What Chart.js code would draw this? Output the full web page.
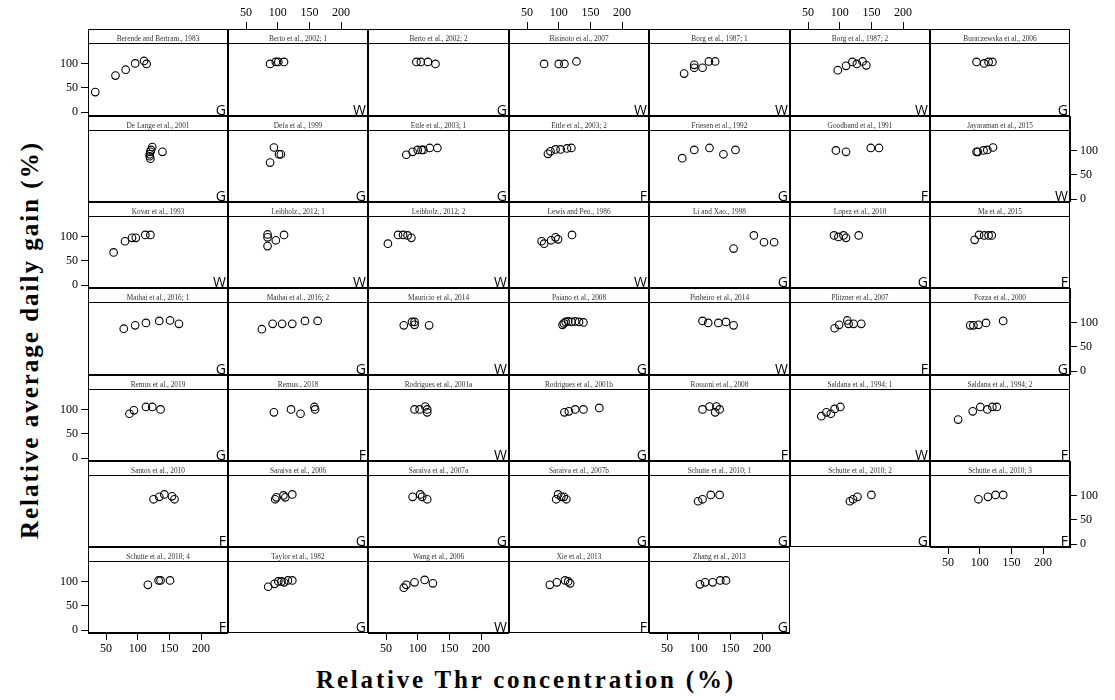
<!DOCTYPE html>
<html>
<head>
<meta charset="utf-8">
<script src="https://cdn.jsdelivr.net/npm/chart.js@4.4.1/dist/chart.umd.min.js"></script>
<style>
  html, body { margin: 0; padding: 0; background: #fff; }
  #fig { position: relative; width: 1115px; height: 700px; overflow: hidden; }
  #fig canvas { position: absolute; }
  .title { position: absolute; font-family: "Liberation Serif", serif; font-weight: bold;
           font-size: 25px; color: #000; white-space: nowrap; }
  #xtitle { left: 526px; top: 680px; transform: translate(-50%, -50%); letter-spacing: 2.8px; }
  #ytitle { left: 30px; top: 340px; transform: translate(-50%, -50%) rotate(-90deg); letter-spacing: 2px; }
</style>
</head>
<body>
<div id="fig">
  <div id="xtitle" class="title">Relative Thr concentration (%)</div>
  <div id="ytitle" class="title">Relative average daily gain (%)</div>
</div>
<script>
// One panel per study, in reading order (7 panels per row)
const studies = [
  "Berende and Bertram., 1983", "Berto et al., 2002; 1", "Berto et al., 2002; 2", "Bisinoto et al., 2007",
  "Borg et al., 1987; 1", "Borg et al., 1987; 2", "Buraczewska et al., 2006",
  "De Lange et al., 2001", "Defa et al., 1999", "Ettle et al., 2003; 1", "Ettle et al., 2003; 2",
  "Friesen et al., 1992", "Goodband et al., 1991", "Jayaraman et al., 2015",
  "Kovar et al., 1993", "Leibholz., 2012; 1", "Leibholz., 2012; 2", "Lewis and Peo., 1986",
  "Li and Xao., 1998", "Lopez et al., 2010", "Ma et al., 2015",
  "Mathai et al., 2016; 1", "Mathai et al., 2016; 2", "Mauricio et al., 2014", "Paiano et al., 2008",
  "Pinheiro et al., 2014", "Plitzner et al., 2007", "Pozza et al., 2000",
  "Remus et al., 2019", "Remus., 2018", "Rodrigues et al., 2001a", "Rodrigues et al., 2001b",
  "Rossoni et al., 2008", "Saldana et al., 1994; 1", "Saldana et al., 1994; 2",
  "Santos et al., 2010", "Saraiva et al., 2006", "Saraiva et al., 2007a", "Saraiva et al., 2007b",
  "Schutte et al., 2010; 1", "Schutte et al., 2010; 2", "Schutte et al., 2010; 3",
  "Schutte et al., 2010; 4", "Taylor et al., 1982", "Wang et al., 2006", "Xie et al., 2013", "Zhang et al., 2013"
];

// Phase code shown in the corner of each panel
const feedTypes = [
  "G","W","G","W","W","W","G",
  "G","G","G","F","G","F","W",
  "W","W","W","W","G","G","F",
  "G","G","W","G","W","F","G",
  "G","F","W","G","F","W","F",
  "F","G","G","G","G","G","F",
  "F","G","W","F","G"
];

// Relative Thr concentration (%) per study
const thrLevels = [
  [33,65,81,96,110,114], [88,97,101,110], [98,105,116,128], [77,100,109,128],
  [77,93,93,106,116,126], [97,110,120,127,136,142], [95,107,114,120],
  [123,121,120,119,119,120,139], [94,102,105,88], [82,92,100,106,109,119,131], [83,87,95,103,113,120],
  [74,93,117,139,158], [94,110,149,162], [95,97,106,112,121],
  [62,80,91,97,112,120], [84,84,84,97,110], [53,69,77,84,90], [73,77,88,95,99,121],
  [155,187,203,219], [91,98,106,110,130], [92,99,107,114,119],
  [78,96,113,134,151,165], [75,92,107,123,143,163], [78,91,95,95,118], [106,108,111,115,120,126,132,139],
  [106,115,131,143,155], [92,99,112,114,122,134], [85,90,98,110,137],
  [87,94,113,123,136], [94,121,136,158,159], [95,103,112,115,115], [109,116,126,139,164],
  [106,117,126,128,133], [71,79,86,92,101], [66,89,101,112,120,127],
  [125,134,142,154,158], [96,98,109,112,123], [92,104,107,115], [96,99,104,108,112],
  [99,106,119,133], [116,121,128,150], [98,113,125,137],
  [116,133,136,151], [85,95,101,106,110,116,123], [78,82,95,111,124], [86,97,110,115,118], [102,110,122,134,143]
];

// Relative average daily gain (%) per study
const adgLevels = [
  [41,75,87,100,105,99], [99,103,103,103], [103,103,103,99], [99,99,99,104],
  [79,97,91,91,104,104], [86,95,103,99,104,96], [103,100,103,103],
  [107,101,97,92,88,83,97], [106,92,92,75], [91,97,101,101,101,105,105], [93,98,102,102,104,105],
  [84,101,105,92,101], [100,97,105,105], [97,97,100,101,106],
  [67,90,97,97,103,103], [104,98,80,92,103], [85,103,103,102,97], [90,85,92,98,94,103],
  [75,102,88,88], [102,99,102,97,102], [93,103,102,102,102],
  [87,94,99,103,104,97], [86,97,97,97,103,103], [94,101,101,95,94], [95,98,101,102,101,102,101,100],
  [103,99,99,101,94], [88,95,104,97,97,97], [94,94,95,99,103],
  [91,98,105,105,100], [94,100,91,105,100], [100,100,106,100,94], [94,96,100,100,103],
  [100,106,94,106,100], [86,94,91,101,105], [79,96,105,100,105,105],
  [92,97,102,98,92], [92,96,100,96,102], [97,102,97,92], [92,102,97,97,92],
  [88,92,101,101], [88,92,97,101], [92,97,101,101],
  [93,102,102,102], [89,95,100,100,98,102,102], [87,93,98,103,96], [93,98,102,100,96], [94,98,98,102,102]
];

const xTicks = [50, 100, 150, 200];
const yTicks = [0, 50, 100];

// Panel grid (page pixels)
const colEdges = [88, 228, 368, 509, 649, 790, 930, 1070];
const rowEdges = [29, 116, 202, 288, 375, 461, 547, 633];
const NCOL = 7;
const STRIP = 14;          // height of the title strip on top of each panel
const X_MIN = 21.6;        // Thr value at a panel's left edge
const X_PX = 0.634;        // pixels per Thr unit
const Y_PX = 0.486;        // pixels per ADG unit
const Y_ZERO = 83;         // distance from panel top to ADG = 0
const AX_W = 50, AX_H = 30;

const tickFont = { family: "Liberation Serif", size: 12 };

// Draws the panel frame, the title strip and the phase letter
const panelFrame = {
  id: 'panelFrame',
  afterDraw(chart, args, opts) {
    const { ctx, chartArea: a } = chart;
    ctx.save();
    ctx.strokeStyle = '#000';
    ctx.lineWidth = 1;
    ctx.beginPath();
    ctx.moveTo(a.left, a.top + STRIP + 0.5);
    ctx.lineTo(a.right, a.top + STRIP + 0.5);
    ctx.stroke();
    ctx.strokeRect(a.left + 0.5, a.top + 0.5, a.right - a.left - 1, a.bottom - a.top - 1);
    ctx.fillStyle = '#333';
    ctx.font = '8.5px "Liberation Serif"';
    ctx.textAlign = 'center';
    ctx.textBaseline = 'alphabetic';
    ctx.translate((a.left + a.right) / 2, a.top + 11.5);
    ctx.scale(0.86, 1);
    ctx.fillText(opts.title, 0, 0);
    ctx.restore();

    ctx.save();
    ctx.fillStyle = '#000';
    ctx.font = '14px "Open Sans"';
    ctx.textAlign = 'right';
    ctx.textBaseline = 'alphabetic';
    ctx.fillText(opts.feed, a.right - 2, a.bottom - 1);
    ctx.restore();
  }
};

function axis(kind, position, show, min, max, tickValues) {
  return {
    type: 'linear',
    position: position,
    min: min,
    max: max,
    display: show,
    grid: { display: true, drawOnChartArea: false, drawTicks: true, tickLength: 7, color: '#000', lineWidth: 1 },
    border: { display: true, color: '#000', width: 1 },
    ticks: { autoSkip: false, maxRotation: 0, minRotation: 0, padding: kind === 'x' ? 2 : 3,
             color: '#000', font: tickFont },
    afterBuildTicks: s => { s.ticks = tickValues.map(v => ({ value: v })); },
    afterFit: s => {
      if (show) { if (kind === 'x') s.height = AX_H; else s.width = AX_W; }
      s.paddingLeft = s.paddingRight = s.paddingTop = s.paddingBottom = 0;
    }
  };
}

const fig = document.getElementById('fig');
const N = studies.length;

for (let i = 0; i < N; i++) {
  const r = Math.floor(i / NCOL), c = i % NCOL;
  const left = colEdges[c], right = colEdges[c + 1];
  const top = rowEdges[r], bottom = rowEdges[r + 1];
  const w = right - left, h = bottom - top;

  const showTop = r === 0 && c % 2 === 1;
  const showBottom = (i + NCOL >= N) && c % 2 === 0;
  const showLeft = c === 0 && r % 2 === 0;
  const showRight = c === NCOL - 1 && r % 2 === 1;

  const mL = showLeft ? AX_W : 0, mR = showRight ? AX_W : 0;
  const mT = showTop ? AX_H : 0, mB = showBottom ? AX_H : 0;

  const cv = document.createElement('canvas');
  cv.width = w + mL + mR;
  cv.height = h + mT + mB;
  cv.style.left = (left - mL) + 'px';
  cv.style.top = (top - mT) + 'px';
  cv.style.width = cv.width + 'px';
  cv.style.height = cv.height + 'px';
  fig.appendChild(cv);

  const xMax = X_MIN + w / X_PX;
  const yMax = Y_ZERO / Y_PX;
  const yMin = yMax - h / Y_PX;

  new Chart(cv, {
    type: 'scatter',
    data: {
      datasets: [{
        data: thrLevels[i].map((x, k) => ({ x: x, y: adgLevels[i][k] })),
        pointStyle: 'circle',
        pointRadius: 3.8,
        pointHoverRadius: 3.8,
        pointBorderWidth: 1.1,
        pointBorderColor: '#000',
        pointBackgroundColor: 'rgba(0,0,0,0)'
      }]
    },
    options: {
      responsive: false,
      animation: false,
      devicePixelRatio: 1,
      events: [],
      layout: { padding: 0, autoPadding: false },
      plugins: {
        legend: { display: false },
        tooltip: { enabled: false },
        panelFrame: { title: studies[i], feed: feedTypes[i] }
      },
      scales: {
        x: axis('x', showTop ? 'top' : 'bottom', showTop || showBottom, X_MIN, xMax, xTicks),
        y: axis('y', showRight ? 'right' : 'left', showLeft || showRight, yMin, yMax, yTicks)
      }
    },
    plugins: [panelFrame]
  });
}
</script>
</body>
</html>
